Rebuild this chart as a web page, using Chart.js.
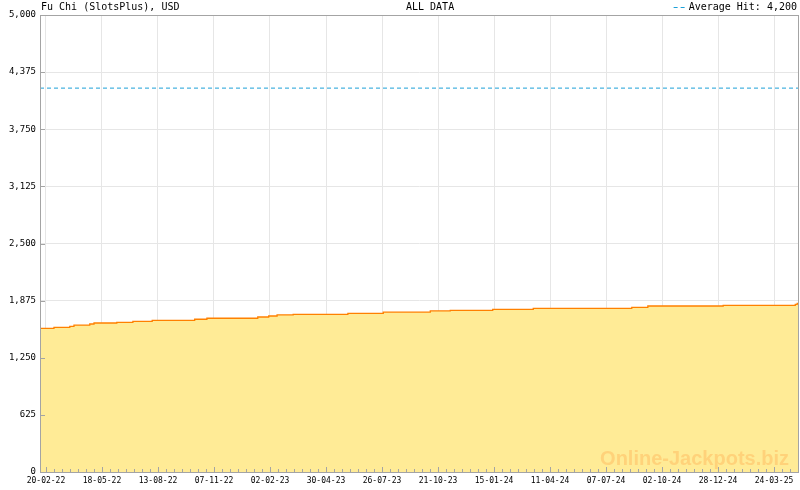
<html lang="en">
<head>
  <meta charset="utf-8">
  <title>Fu Chi (SlotsPlus)</title>
  <style>
    body { margin: 0; background: #fff; }
  </style>
</head>
<body>
  <canvas id="myChart" width="800" height="490"></canvas>
  <script src="https://cdn.jsdelivr.net/npm/chart.js"></script>
  <script>
    // days counted from 20-02-22, value after each jackpot step
    const stepDays = [-9.3, 12.4, 37, 43.5, 68, 74.6, 110, 135, 165, 231, 250, 329, 346, 359, 384,
      469, 524, 597, 628, 694, 757, 910, 935, 1052, 1164, 1167, 1169.8]
    const stepValues = [1572, 1583, 1594, 1608, 1619, 1630, 1638, 1649, 1660, 1671, 1682, 1696, 1707, 1718, 1725,
      1736, 1749, 1762, 1769, 1780, 1791, 1802, 1816, 1824, 1835, 1846, 1846]
    const averageHit = 4200

    const xTickDays = [0, 87, 174, 261, 348, 435, 522, 609, 696, 783, 870, 957, 1044, 1131]
    const xTickLabels = ['20-02-22', '18-05-22', '13-08-22', '07-11-22', '02-02-23', '30-04-23', '26-07-23',
      '21-10-23', '15-01-24', '11-04-24', '07-07-24', '02-10-24', '28-12-24', '24-03-25']
    const yTicks = [0, 625, 1250, 1875, 2500, 3125, 3750, 4375, 5000]

    const xMin = -9.3
    const xMax = 1169.8
    const mono = '"DejaVu Sans Mono", monospace'

    const decorations = {
      id: 'decorations',
      afterDatasetsDraw(chart) {
        const { ctx, chartArea: a, scales: { x, y } } = chart
        ctx.save()
        // watermark
        ctx.font = 'bold 20px "Liberation Sans", Arial, sans-serif'
        ctx.fillStyle = '#ffd27a'
        ctx.textAlign = 'right'
        ctx.textBaseline = 'alphabetic'
        ctx.fillText('Online-Jackpots.biz', a.right - 10, a.bottom - 7)

        // frame
        ctx.strokeStyle = '#a4a4a4'
        ctx.lineWidth = 1
        ctx.strokeRect(Math.round(a.left) + 0.5, Math.round(a.top) + 0.5,
          Math.round(a.right - a.left) - 1, Math.round(a.bottom - a.top))

        // tick marks, pointing inwards
        ctx.beginPath()
        yTicks.forEach(v => {
          const py = Math.round(y.getPixelForValue(v)) + 0.5
          ctx.moveTo(a.left, py)
          ctx.lineTo(a.left + 5, py)
        })
        const step = 87 / 7
        for (let d = 0; d <= xMax; d += step) {
          const px = Math.round(x.getPixelForValue(d)) + 0.5
          const major = Math.abs(d / 87 - Math.round(d / 87)) < 0.01
          ctx.moveTo(px, a.bottom)
          ctx.lineTo(px, a.bottom - (major ? 5 : 3))
        }
        ctx.stroke()

        // header texts
        ctx.font = '10px ' + mono
        ctx.fillStyle = '#000'
        ctx.textBaseline = 'middle'
        ctx.textAlign = 'left'
        ctx.fillText('Fu Chi (SlotsPlus), USD', a.left + 1, 7)
        ctx.fillText('ALL DATA', 406, 7)
        ctx.textAlign = 'right'
        const label = 'Average Hit: ' + averageHit.toLocaleString('en-US')
        ctx.fillText(label, a.right - 2, 7)
        const w = ctx.measureText(label).width
        ctx.strokeStyle = '#1ca0d8'
        ctx.setLineDash([4, 3])
        ctx.beginPath()
        ctx.moveTo(a.right - 2 - w - 15, 7.5)
        ctx.lineTo(a.right - 2 - w - 2, 7.5)
        ctx.stroke()
        ctx.restore()
      }
    }

    const ctx = document.getElementById('myChart')
    const myChart = new Chart(ctx, {
      type: 'line',
      data: {
        datasets: [{
          label: 'Jackpot',
          data: stepDays.map((d, i) => ({ x: d, y: stepValues[i] })),
          stepped: 'before',
          borderColor: '#ff8000',
          borderWidth: 1.3,
          backgroundColor: '#ffeb96',
          fill: 'origin',
          pointRadius: 0
        },
        {
          label: 'Average Hit',
          data: [{ x: xMin, y: averageHit }, { x: xMax, y: averageHit }],
          borderColor: '#1ca0d8',
          borderWidth: 1,
          borderDash: [4, 3],
          fill: false,
          pointRadius: 0
        }]
      },
      options: {
        responsive: false,
        animation: false,
        events: [],
        layout: { padding: { top: 15, right: 1, left: 0, bottom: 0 } },
        plugins: {
          legend: { display: false },
          tooltip: { enabled: false }
        },
        scales: {
          x: {
            type: 'linear',
            min: xMin,
            max: xMax,
            afterBuildTicks: axis => { axis.ticks = xTickDays.map(v => ({ value: v })) },
            afterFit: axis => { axis.height = 18 },
            border: { display: false },
            grid: { color: '#e6e6e6', drawTicks: false },
            ticks: {
              autoSkip: false,
              maxRotation: 0,
              padding: 4,
              color: '#000',
              font: { family: mono, size: 8 },
              callback: function(value, index) {
                return xTickLabels[index]
              }
            }
          },
          y: {
            min: 0,
            max: 5000,
            afterBuildTicks: axis => { axis.ticks = yTicks.map(v => ({ value: v })) },
            afterFit: axis => { axis.width = 40 },
            border: { display: false },
            grid: { color: '#e6e6e6', drawTicks: false },
            ticks: {
              padding: 4,
              color: '#000',
              font: { family: mono, size: 9 },
              callback: function(value) {
                return value.toLocaleString('en-US')
              }
            }
          }
        }
      },
      plugins: [decorations]
    })
  </script>
</body>
</html>
